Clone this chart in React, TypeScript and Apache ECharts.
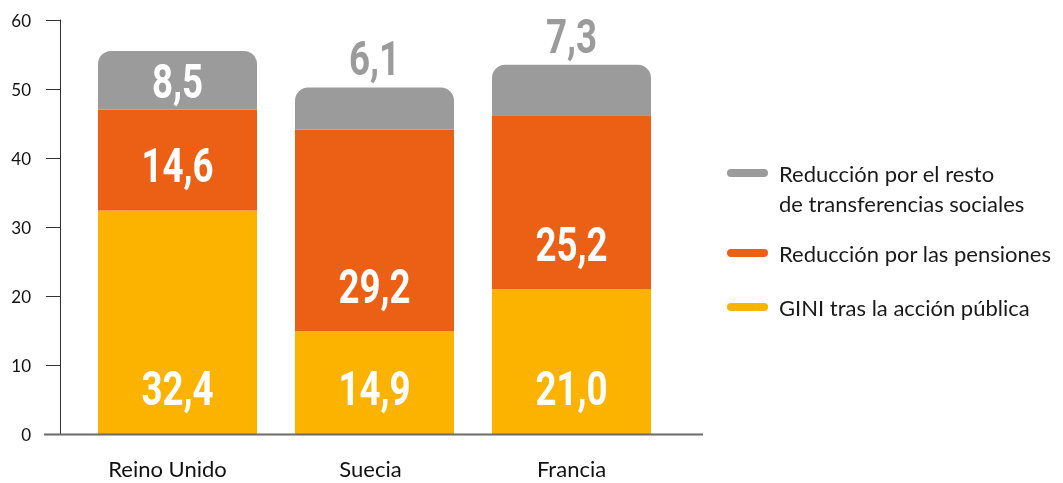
import React, { useEffect, useRef } from "react";
import * as echarts from "echarts";

const categories = ["Reino Unido", "Suecia", "Francia"];
const giniValues = [32.4, 14.9, 21.0];
const pensionValues = [14.6, 29.2, 25.2];
const restValues = [8.5, 6.1, 7.3];
const restLabelOutside = [false, true, true];
const categoryLabelStyle = ["r", "s", "f"];
const seriesNames = [
  "GINI tras la acción pública",
  "Reducción por las pensiones",
  "Reducción por el resto de transferencias sociales",
];
const legendLabels = [
  "GINI tras la acción pública",
  "Reducción por las pensiones",
  "\nReducción por el resto\nde transferencias sociales",
];
const yMin = 0;
const yMax = 60;
const yInterval = 10;

const YELLOW = "#FBB300";
const ORANGE = "#EC6016";
const GRAY = "#9B9B9B";
const LABEL_FONT = "Roboto, 'Liberation Sans', sans-serif";
const TEXT_FONT = "Lato, 'Open Sans', sans-serif";

const fmt = (v: number) => v.toFixed(1).replace(".", ",");

export default function App() {
  const ref = useRef<HTMLDivElement>(null);
  useEffect(() => {
    if (!ref.current) return;
    const chart = echarts.init(ref.current, undefined, { renderer: "svg" });
    const legendIcon = "path://M4,0H37A4,4,0,0,1,37,8H4A4,4,0,0,1,4,0Z";
    const legendBase = (name: string, label: string, top: number) => ({
      orient: "vertical",
      left: 727,
      top,
      padding: 0,
      itemWidth: 41,
      itemHeight: 8,
      icon: legendIcon,
      selectedMode: false,
      data: [name],
      formatter: () => label,
      textStyle: {
        fontFamily: TEXT_FONT,
        fontSize: 22,
        color: "#1a1a1a",
        lineHeight: 30,
        padding: [0, 0, 0, 6],
      },
    });
    const makeLabel = (x: number, y: number, value: number, color: string) => ({
      type: "text",
      x,
      y,
      scaleX: 0.765,
      silent: true,
      style: {
        text: fmt(value),
        fill: color,
        fontFamily: LABEL_FONT,
        fontWeight: "bold",
        fontSize: 48,
        align: "center",
        verticalAlign: "middle",
      },
    });
    const catRich = {
      fontFamily: TEXT_FONT,
      fontSize: 22,
      color: "#111",
    };
    chart.setOption({
      animation: false,
      grid: { left: 79, right: 393, top: 20, bottom: 49 },
      xAxis: {
        type: "category",
        data: categories,
        axisLine: { show: false },
        axisTick: { show: false },
        axisLabel: {
          fontFamily: TEXT_FONT,
          fontSize: 22,
          color: "#111",
          margin: 23,
          formatter: (v: string, i: number) => `{${categoryLabelStyle[i]}|${v}}`,
          rich: {
            r: { ...catRich, padding: [0, 20, 0, 0] },
            s: { ...catRich, padding: [0, 8, 0, 0] },
            f: { ...catRich, padding: [0, 0, 0, 0] },
          },
        },
      },
      yAxis: {
        type: "value",
        min: yMin,
        max: yMax,
        interval: yInterval,
        offset: 19,
        splitLine: { show: false },
        axisLine: { show: true, lineStyle: { color: "#333", width: 1 } },
        axisTick: { show: true, length: 14, lineStyle: { color: "#333", width: 1 } },
        axisLabel: { fontFamily: TEXT_FONT, fontSize: 17, color: "#111", margin: 29 },
      },
      legend: [
        legendBase(seriesNames[2], legendLabels[2], 128),
        legendBase(seriesNames[1], legendLabels[1], 238),
        legendBase(seriesNames[0], legendLabels[0], 292),
      ],
      graphic: [
        {
          type: "line",
          shape: { x1: 44, y1: 434.5, x2: 703, y2: 434.5 },
          style: { stroke: "#6b6b6b", lineWidth: 2 },
          z: 100,
        },
      ],
      series: [
        {
          name: seriesNames[0],
          type: "bar",
          stack: "total",
          barWidth: 159,
          itemStyle: { color: YELLOW },
          data: giniValues,
        },
        {
          name: seriesNames[1],
          type: "bar",
          stack: "total",
          barWidth: 159,
          itemStyle: { color: ORANGE },
          data: pensionValues,
        },
        {
          name: seriesNames[2],
          type: "bar",
          stack: "total",
          barWidth: 159,
          itemStyle: { color: GRAY, borderRadius: [13, 13, 0, 0] },
          data: restValues,
        },
        {
          name: "labels",
          type: "custom",
          silent: true,
          z: 10,
          encode: { x: 0, y: 1 },
          data: categories.map((_, i) => [i, 0]),
          renderItem: (params: any, api: any) => {
            const i = api.value(0);
            const g = giniValues[i];
            const p = pensionValues[i];
            const r = restValues[i];
            const base = api.coord([i, 0]);
            const x = base[0];
            const yBase = base[1];
            const yGini = api.coord([i, g])[1];
            const yPens = api.coord([i, g + p])[1];
            const yTop = api.coord([i, g + p + r])[1];
            const children = [
              makeLabel(x, yBase - 45.5, g, "#fff"),
              makeLabel(x, yGini - 45, p, "#fff"),
              restLabelOutside[i]
                ? makeLabel(x, yTop - 29, r, GRAY)
                : makeLabel(x, (yPens + yTop) / 2 + 1, r, "#fff"),
            ];
            return { type: "group", children };
          },
        },
      ],
    });
    return () => chart.dispose();
  }, []);
  return (
    <div
      ref={ref}
      style={{ position: "fixed", left: 0, top: 0, width: 1063, height: 483 }}
    />
  );
}
